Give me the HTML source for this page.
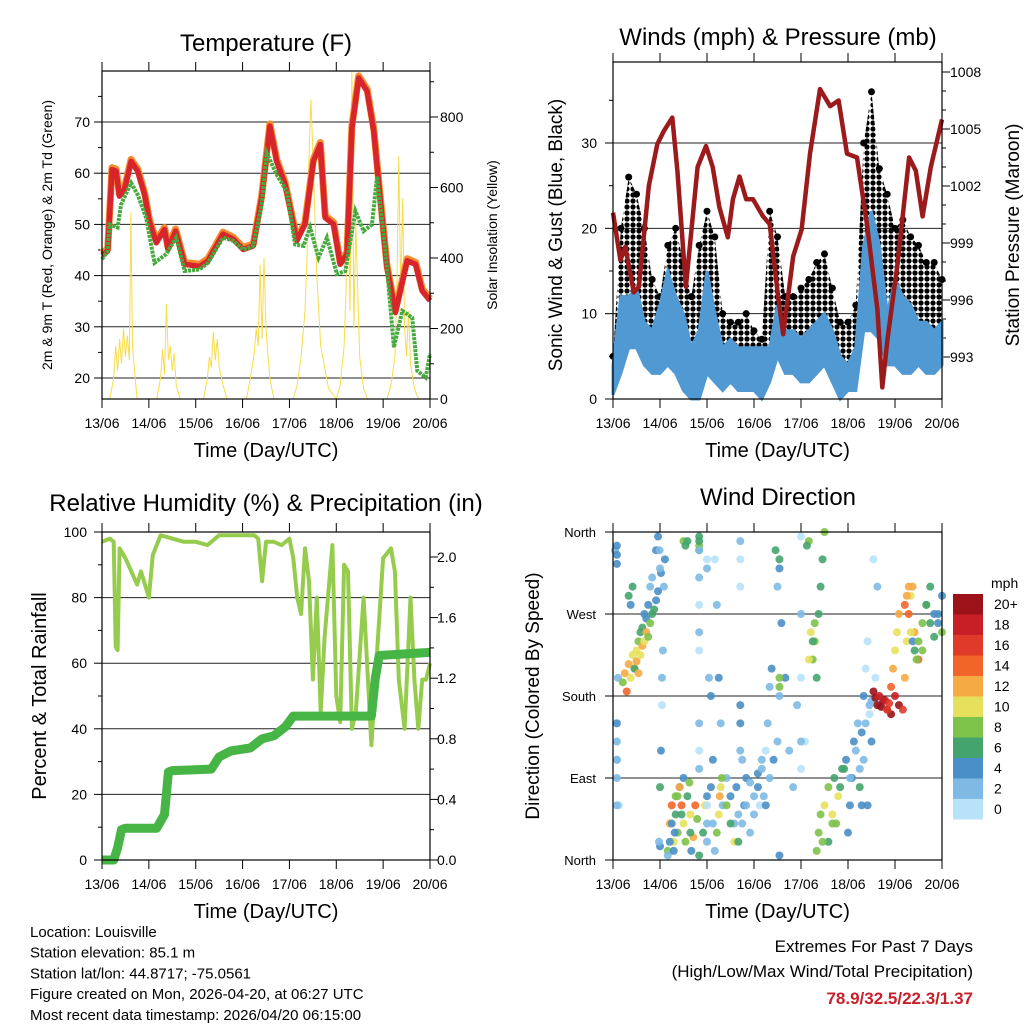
<!DOCTYPE html>
<html><head><meta charset="utf-8">
<style>
body{margin:0;background:#fff;}
svg{display:block;font-family:"Liberation Sans",Arial,sans-serif;}
</style></head>
<body>
<svg id="chart" width="1024" height="1024" viewBox="0 0 1024 1024">
<defs><pattern id="dots" width="6" height="6" patternUnits="userSpaceOnUse"><circle cx="3" cy="3" r="2.6" fill="#000"/></pattern></defs>
</svg>
<script>
// ---------- DATA ----------
const dayLabels=["13/06","14/06","15/06","16/06","17/06","18/06","19/06","20/06"];
// Temperature panel
const tempHours=[0,2.9,5.1,7.2,8.9,11.5,14.9,18.3,21.8,24.3,27.8,32,33.8,37.7,42.3,50,54.3,62,67.2,72.3,77.5,81.8,86,89.5,93.8,99.8,104,108.3,111.8,114.3,118.6,122,125.5,128,131.5,135.8,139.2,141.8,146,150.3,156.3,160.6,164,168];
const tempT=[44,44.8,60.7,60.4,55.5,56.8,62.3,60.4,55.8,50.6,46.4,49,45.1,48.7,42.2,41.8,42.9,48.1,47.1,45.1,45.8,55.2,69.2,62.3,57.8,46.8,50,62.3,65.6,51.3,50,42.2,44.2,68.8,78.6,76,68.2,57.8,41.6,32.8,42.9,42.2,37,35.1];
const tdHours=[0,2.9,3.8,8,9.8,14.9,18.3,22.6,26.9,32.9,38,42.3,50,54.3,62,67.2,72.3,77.5,81.8,84.3,89.5,94.6,98.9,103.2,106.6,110.9,115.2,120.3,124.6,129.8,134,138.3,140.9,145.2,149.5,153.8,158.9,161.5,165.8,168];
const tdVals=[43.2,44.8,50,49.4,53.9,58.1,55.8,51.3,42.5,44.2,47.4,40.9,41.2,42.5,47.4,46.8,45.1,45.8,53.9,64,59.7,56.5,46.1,45.8,49.4,43.5,47.4,40.3,40.9,52.6,48.7,50,59.4,44.8,26,33.1,31.8,21.4,20.1,24.7];
const solarHours=[0,4,6,7,8,9,10,11,12,13,14,14.8,15.6,17,18,28,30,31,32,33,34,35,36,37,38,40,52,54,55,56,57,58,59,60,62,64,74,76,78,79,80,81,82,83,84,85,86,88,98,100,102,104,105,106,107,108,110,112,116,120,122,124,125,126,127,128,129,130,131,132,134,136,140,146,148,150,151,152,153,154,155,156,157,158,160,162,168];
const solarVals=[0,0,60,150,80,170,100,200,120,180,110,530,150,60,0,0,60,140,70,270,110,150,80,130,40,0,0,60,120,90,190,110,170,90,40,0,0,60,130,200,150,380,170,400,200,120,60,0,0,40,120,250,400,690,850,700,350,150,30,0,40,150,300,590,250,930,200,500,300,120,30,0,0,0,40,120,300,690,300,570,200,120,250,100,30,0,0];
// Winds & pressure
const windHours=[0,4,8,12,16,20,24,28,32,36,40,44,48,52,56,60,64,68,72,76,80,84,88,92,96,100,104,108,112,116,120,124,128,132,136,140,144,148,152,156,160,164,168];
const windLo=[0.5,3,6,6,4,3,3,4,3,1,0,0,3,2,1,2,1,1,1,0,2,5,3,3,2,2,3,4,2,0,1,1,8,8,7,4,4,3,3,4,3,3,4];
const windHi=[4,12,12,13,9,8,11,15,12,10,6,8,15,10,6,7,6,6,6,6,6,11,8,8,7,8,9,10,8,5,4,6,18,22,18,10,14,12,11,9,9,8,9];
const gustHi=[5,20,26,24,20,14,12,18,20,16,12,18,22,19,10,9,9,10,8,7,22,19,12,12,13,14,16,17,13,9,9,11,30,36,27,24,20,21,19,18,16,16,14];
const presHours=[0,3.8,6.3,10.6,13.2,18.3,22.6,26,30.3,32.9,37.2,43.2,47.5,50.9,54.3,58.6,61.2,64.6,68,71.5,76.6,80,84.3,86.9,92,96.3,100.6,105.7,110.9,115.2,119.5,124.6,129.8,135,137.5,140.1,145.2,151.2,154.6,158.1,162.3,168];
const presVals=[1000.6,998.1,998.8,996.4,996.7,1002,1004.2,1004.9,1005.6,1002.8,996.7,1003,1004.1,1003,1000.9,999.3,1001.3,1002.5,1001.3,1001.3,1000.4,1000,996.2,994.2,998.3,999.7,1003.7,1007.1,1006.2,1006.5,1003.7,1003.5,999.9,995.5,991.4,993.9,997.8,1003.5,1002.8,1000.4,1003,1005.5];
// RH & rain
const rhHours=[0,4,6,7,8,9,12,15,18,20,24,26,30,36,42,48,54,60,66,72,78,80,82,84,88,92,96,98,100,102,104,106,108,110,112,114,118,120,122,124,126,128,130,134,138,140,144,148,150,152,155,158,160,162,164,166,168];
const rhVals=[97,98,97,65,64,95,92,88,84,88,80,93,99,98,97,97,96,99,99,99,99,98,85,97,97,96,98,92,80,75,95,85,55,80,45,68,96,50,42,90,88,40,45,80,35,55,92,95,88,55,40,80,55,40,55,55,60];
const rainHours=[0,6,8,10,12,28,32,34,36,56,60,66,76,82,88,94,98,138,140,142,168];
const rainVals=[0,0,0.08,0.2,0.21,0.21,0.3,0.58,0.59,0.6,0.68,0.72,0.74,0.8,0.82,0.88,0.95,0.95,1.2,1.35,1.37];
// Wind direction scatter: hours, degrees, speed
const dirHours=[1,1.5,2,2.5,3,5,6,7,8,9,10,11,12,13,14,15,16,17,18,19,20,22,23,24,24,24.5,25,25,25.5,26,26.5,28,29,30,31,32,33,34,35,36,36,37,38,41,42,43,44,46,47,48,50,51,52,53,54,55,56,58,60,62,63,64,66,67,68,70,72,74,75,76,77,78,79,80,81,83,84,86,88,90,92,94,96,98,100,101,102,103,104,105,106,107,108,110,112,114,116,118,120,121,122,124,126,127,128,129,130,131,132,133,134,135,136,138,140,142,144,146,148,149,150,151,152,153,154,156,158,160,162,164,166,168,
8,9,10,11,12,13,14,15,16,17,18,19,20,21,22,23,24.5,2,2,2,2,2,2,2,2,23.5,23.8,24,28,29,30,31,31.5,32,33,34,35,36,37,38,39,39.5,39.5,40,44,44,44,44,44,44,44,44,44,44,44,44,48,48,48,48,48,49,50,51,52,53,54,54.5,55,55.5,58,60,62,64,66,68,70,72,74,76,78,80,82,84,65,65,65,65,65,65,96,96,96,96,99,85,85,85,85,85,85,100,102,103,104,105,106,107,108,110,112,113,115,117,119,121,123,125,126,127,128,129,130,131,132,133,134,135,136,137,139,140,141,142,143,144,145,146,149,150,151,152,153,154,155,156,158,160,162,164,166,168];
const dirVals=[340,150,110,200,60,195,205,185,215,200,225,210,230,240,250,255,270,265,280,300,310,340,355,15,80,120,200,170,230,300,330,10,40,60,20,70,30,80,50,90,350,345,350,25,60,45,5,30,60,70,80,40,330,280,200,150,60,90,70,40,80,50,110,60,90,85,70,95,60,110,70,120,150,190,210,340,300,260,200,120,80,170,100,130,350,250,220,240,200,270,300,330,360,20,50,40,80,100,30,60,90,120,80,140,110,150,60,170,130,330,200,300,170,175,165,160,180,170,165,200,240,270,290,300,250,220,230,280,260,245,270,250,290,280,300,
210,218,205,225,235,240,250,245,260,270,275,285,295,315,325,335,345,150,130,110,90,60,20,340,320,5,20,40,10,30,50,70,80,60,40,20,70,85,50,30,10,355,340,345,350,340,310,280,250,230,150,120,100,60,40,20,330,320,200,180,110,10,30,50,70,80,90,60,40,20,20,40,60,30,50,80,100,60,90,110,130,150,170,120,350,330,300,270,200,130,355,345,330,320,5,180,190,200,220,240,260,10,30,50,20,60,80,40,90,70,100,110,90,130,150,100,60,180,210,240,160,175,185,178,170,180,168,175,165,172,190,210,230,250,270,280,290,300,250,240,230,220,240,260,280,300,270,260,290,300,280,310];
const dirSpeed=[2,0,2,3,1,8,12,14,13,10,11,12,10,8,6,6,5,4,4,3,3,4,5,4,6,4,3,1,3,2,4,8,12,15,10,9,8,5,6,4,8,7,7,12,14,9,6,7,10,5,4,3,1,2,4,3,2,3,4,3,4,2,3,4,5,2,3,4,1,3,2,0,2,3,4,6,3,4,4,3,2,3,0,1,8,10,9,8,7,7,6,6,8,6,10,8,7,6,4,5,4,3,6,4,2,3,4,2,4,0,1,2,3,20,22,21,19,20,17,12,10,14,11,13,12,15,9,8,7,6,5,8,6,4,7,6,
12,13,10,12,11,13,9,8,6,6,5,4,4,4,4,4,4,2,2,3,2,3,2,2,3,4,4,4,5,6,8,12,14,10,8,6,9,10,6,5,6,6,8,6,2,2,1,2,1,2,1,2,1,2,2,1,2,2,4,4,3,8,10,12,11,9,8,7,10,6,2,3,3,2,4,3,4,3,4,3,4,4,3,2,1,1,2,1,2,1,6,6,4,4,2,8,9,10,7,8,9,8,9,8,10,9,8,7,10,6,4,3,4,3,3,5,4,1,1,0,2,20,22,21,19,20,18,17,16,14,12,11,10,12,14,13,12,10,5,6,8,9,8,7,6,5,4,4,6,5,8,6];
const colorLabels=["20+","18","16","14","12","10","8","6","4","2","0"];
const colorSteps=["#9b1319","#c81e25","#e03a2b","#f2652a","#f6aa44","#e6e15c","#7dc24a","#45a46d","#4a8fc7","#7fbae4","#b7e2f8"];

// ---------- HELPERS ----------
const svg=document.getElementById('chart');
const NS='http://www.w3.org/2000/svg';
function mk(tag,attrs,parent,txt){const e=document.createElementNS(NS,tag);for(const k in attrs)e.setAttribute(k,attrs[k]);if(txt!==undefined)e.textContent=txt;(parent||svg).appendChild(e);return e;}
function grp(name){const g=mk('g',{});return g;}
function xs(x0,x1){return h=>x0+h/168*(x1-x0);}
function lin(v0,y0,v1,y1){return v=>y0+(v-v0)*(y1-y0)/(v1-v0);}
function path(hs,vs,X,Y){return hs.map((h,i)=>(i?'L':'M')+X(h).toFixed(1)+','+Y(vs[i]).toFixed(1)).join('');}
function frame(g,x0,y0,x1,y1){
  const X=xs(x0,x1);
  for(let d=0;d<=7;d++){const x=X(d*24);
    mk('line',{x1:x,y1:y0,x2:x,y2:y0-9,stroke:'#000','stroke-width':1},g);
    mk('line',{x1:x,y1:y1,x2:x,y2:y1+9,stroke:'#000','stroke-width':1},g);
    const t=mk('text',{x:x,y:y1+29,'font-size':14,'text-anchor':'middle'},g,dayLabels[d]);
    
    
  }
  const xt=mk('text',{x:(x0+x1)/2,y:y1+58,'font-size':20,'text-anchor':'middle'},g,'Time (Day/UTC)');
  
  
}
function box(g,x0,y0,x1,y1){mk('rect',{x:x0,y:y0,width:x1-x0,height:y1-y0,fill:'none',stroke:'#000','stroke-width':1.2},g);}
function ytick(g,x,y,dir,len,label,anchor,tx,fs){
  mk('line',{x1:x,y1:y,x2:x+dir*len,y2:y,stroke:'#000','stroke-width':1},g);
  if(label!==null){const t=mk('text',{x:tx,y:y+5,'font-size':fs||14,'text-anchor':anchor},g,label);
    
    }
}
function rotText(g,x,y,s,fs,name){const t=mk('text',{x:x,y:y,'font-size':fs,'text-anchor':'middle',transform:`rotate(-90 ${x} ${y})`},g,s);
  
  }
function title(g,x,y,s,fs){const t=mk('text',{x:x,y:y,'font-size':fs,'text-anchor':'middle'},g,s);
  
  }

// ---------- PANEL 1: TEMPERATURE ----------
(function(){
const g=grp('temperature-panel');
const x0=102,x1=430,y0=71,y1=399;const X=xs(x0,x1);
const Y=lin(20,378,70,122);const YS=lin(0,399,800,117);
title(g,266,51,'Temperature (F)',24);
for(let v=20;v<=70;v+=10){mk('line',{x1:x0,y1:Y(v),x2:x1,y2:Y(v),stroke:'#222','stroke-width':1},g);ytick(g,x0,Y(v),-1,8,String(v),'end',90);}
for(let v=15;v<=75;v+=10){if(Y(v)>y0&&Y(v)<y1)ytick(g,x0,Y(v),-1,4,null);}
for(let v=0;v<=800;v+=200){ytick(g,x1,YS(v),1,8,String(v),'start',440);}
for(let v=100;v<=900;v+=200){if(YS(v)>y0)ytick(g,x1,YS(v),1,4,null);}
const sol=mk('path',{d:path(solarHours,solarVals,X,YS),fill:'none',stroke:'#f7dc4a','stroke-width':1},g);


const org=mk('path',{d:path(tempHours,tempT.map(v=>v+0.4),X,Y),fill:'none',stroke:'#f58a2e','stroke-width':7,'stroke-linejoin':'round'},g);


const red=mk('path',{d:path(tempHours,tempT,X,Y),fill:'none',stroke:'#d7252b','stroke-width':5.5,'stroke-linejoin':'round'},g);


const td=mk('path',{d:path(tdHours,tdVals,X,Y),fill:'none',stroke:'#46aa3f','stroke-width':4,'stroke-dasharray':'3 1'},g);


box(g,x0,y0,x1,y1);frame(g,x0,y0,x1,y1);
rotText(g,52,235,'2m & 9m T (Red, Orange) & 2m Td (Green)',14,'y-axis-title-left');
rotText(g,497,235,'Solar Insolation (Yellow)',14,'y-axis-title-right');
})();

// ---------- PANEL 2: WINDS ----------
(function(){
const g=grp('winds-panel');
const x0=613,x1=942,y0=62,y1=399;const X=xs(x0,x1);
const Y=lin(0,399,30,143);const YP=lin(993,357,1008,72);
title(g,778,45,'Winds (mph) & Pressure (mb)',24);
for(let v=0;v<=30;v+=10){if(v>0)mk('line',{x1:x0,y1:Y(v),x2:x1,y2:Y(v),stroke:'#222','stroke-width':1},g);ytick(g,x0,Y(v),-1,8,String(v),'end',597);}
for(let v=5;v<=35;v+=10)ytick(g,x0,Y(v),-1,4,null);
for(let v=993;v<=1008;v+=3)ytick(g,x1,YP(v),1,8,String(v),'start',950);
for(let v=994;v<=1007;v++)if(v%3)ytick(g,x1,YP(v),1,4,null);
const gd='M'+windHours.map((h,i)=>X(h).toFixed(1)+','+Y(gustHi[i]).toFixed(1)).join('L')+'L'+windHours.slice().reverse().map((h,i)=>X(h).toFixed(1)+','+Y(windHi[windHi.length-1-i]).toFixed(1)).join('L')+'Z';
const gb=mk('path',{d:gd,fill:'url(#dots)'},g);


windHours.forEach((h,i)=>{const c=mk('circle',{cx:X(h),cy:Y(gustHi[i]),r:3.5,fill:'#000'},g);
  
  });
const wd='M'+windHours.map((h,i)=>X(h).toFixed(1)+','+Y(windHi[i]).toFixed(1)).join('L')+'L'+windHours.slice().reverse().map((h,i)=>X(h).toFixed(1)+','+Y(windLo[windLo.length-1-i]).toFixed(1)).join('L')+'Z';
const wb=mk('path',{d:wd,fill:'#5199d2',stroke:'#5199d2','stroke-width':3},g);


const pr=mk('path',{d:path(presHours,presVals,X,YP),fill:'none',stroke:'#9b1a1c','stroke-width':4.5,'stroke-linejoin':'round'},g);


box(g,x0,y0,x1,y1);frame(g,x0,y0,x1,y1);
rotText(g,562,235,'Sonic Wind & Gust (Blue, Black)',19,'y-axis-title-left');
rotText(g,1019,235,'Station Pressure (Maroon)',19,'y-axis-title-right');
})();

// ---------- PANEL 3: RH ----------
(function(){
const g=grp('humidity-panel');
const x0=102,x1=430,y0=532,y1=860;const X=xs(x0,x1);
const Y=lin(0,860,100,532);const YR=lin(0,860,2,557);
title(g,266,511,'Relative Humidity (%) & Precipitation (in)',24);
for(let v=0;v<=100;v+=20){if(v>0&&v<100)mk('line',{x1:x0,y1:Y(v),x2:x1,y2:Y(v),stroke:'#222','stroke-width':1},g);ytick(g,x0,Y(v),-1,8,String(v),'end',87);}
for(let v=10;v<=90;v+=20)ytick(g,x0,Y(v),-1,4,null);
for(let v=0;v<=2.01;v+=0.4)ytick(g,x1,YR(v),1,8,v.toFixed(1),'start',437);
for(let v=0.2;v<=2.1;v+=0.4)ytick(g,x1,YR(v),1,4,null);
const rh=mk('path',{d:path(rhHours,rhVals,X,Y),fill:'none',stroke:'#96cc4e','stroke-width':4,'stroke-linejoin':'round'},g);


const rn=mk('path',{d:path(rainHours,rainVals,X,YR),fill:'none',stroke:'#47b446','stroke-width':9,'stroke-linejoin':'round'},g);


box(g,x0,y0,x1,y1);frame(g,x0,y0,x1,y1);
rotText(g,46,696,'Percent & Total Rainfall',20,'y-axis-title-left');
})();

// ---------- PANEL 4: WIND DIRECTION ----------
(function(){
const g=grp('wind-direction-panel');
const x0=613,x1=942,y0=532,y1=860;const X=xs(x0,x1);
const Y=lin(0,860,360,532);
title(g,778,505,'Wind Direction',24);
const names=['North','East','South','West','North'];
names.forEach((n,i)=>{const y=Y(i*90);if(i>0&&i<4)mk('line',{x1:x0,y1:y,x2:x1,y2:y,stroke:'#222','stroke-width':1},g);ytick(g,x0,y,-1,8,n,'end',596,13);});
function col(s){const idx=Math.min(10,Math.floor(s/2));return colorSteps[10-idx];}
dirHours.forEach((h,i)=>{const c=mk('circle',{cx:X(h),cy:Y(dirVals[i]),r:4,fill:col(dirSpeed[i]),'fill-opacity':0.9},g);
  
  });
box(g,x0,y0,x1,y1);frame(g,x0,y0,x1,y1);
rotText(g,539,696,'Direction (Colored By Speed)',19,'y-axis-title-left');
const lg=grp('speed-colorbar');
const mt=mk('text',{x:991,y:588,'font-size':14},lg,'mph');


colorLabels.forEach((l,i)=>{const y=594+i*20.5;
  const r=mk('rect',{x:953,y:y,width:30,height:20.5,fill:colorSteps[i]},lg);
  
  
  const t=mk('text',{x:994,y:y+15,'font-size':14},lg,l);
  
  });
})();

// ---------- FOOTER ----------
(function(){
const g=grp('footer-info');
const lines=['Location: Louisville','Station elevation: 85.1 m','Station lat/lon: 44.8717; -75.0561','Figure created on Mon, 2026-04-20, at 06:27 UTC','Most recent data timestamp: 2026/04/20 06:15:00'];
lines.forEach((s,i)=>{const t=mk('text',{x:30,y:937+i*20.7,'font-size':15},g,s);
  
  });
const e1=mk('text',{x:973,y:952,'font-size':17,'text-anchor':'end'},g,'Extremes For Past 7 Days');


const e2=mk('text',{x:973,y:977,'font-size':17,'text-anchor':'end'},g,'(High/Low/Max Wind/Total Precipitation)');


const e3=mk('text',{x:973,y:1004,'font-size':17,'font-weight':'bold','text-anchor':'end',fill:'#c8202a'},g,'78.9/32.5/22.3/1.37');


})();
</script>
</body></html>
